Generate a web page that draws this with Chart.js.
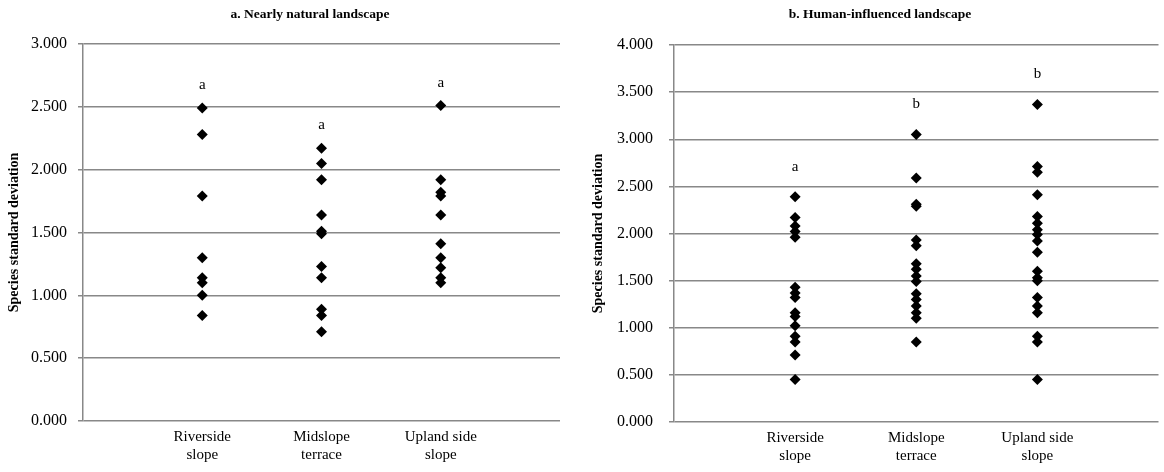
<!DOCTYPE html>
<html>
<head>
<meta charset="utf-8">
<script src="https://cdn.jsdelivr.net/npm/chart.js@4"></script>
<style>
  html, body { margin: 0; padding: 0; background: #fff; }
  #wrap { position: relative; width: 1164px; height: 472px; }
  .panel { position: absolute; top: 0; height: 472px; }
</style>
</head>
<body>
<div id="wrap">
  <div class="panel" style="left:0;width:580px"><canvas id="chartA"></canvas></div>
  <div class="panel" style="left:580px;width:584px"><canvas id="chartB"></canvas></div>
</div>
<script>
// categories shared by both panels
const categories = [['Riverside', 'slope'], ['Midslope', 'terrace'], ['Upland side', 'slope']];
const yTitle = 'Species standard deviation';

// a. Nearly natural landscape
const natRiverside = [2.49, 2.28, 1.79, 1.30, 1.14, 1.10, 1.00, 0.84];
const natMidslope = [2.17, 2.05, 1.92, 1.64, 1.51, 1.49, 1.23, 1.14, 0.89, 0.84, 0.71];
const natUpland = [2.51, 1.92, 1.82, 1.79, 1.64, 1.41, 1.30, 1.22, 1.14, 1.10];
const natLetters = ['a', 'a', 'a'];
const natYMax = 3;

// b. Human-influenced landscape
const humRiverside = [2.39, 2.17, 2.08, 2.02, 1.96, 1.43, 1.37, 1.32, 1.16, 1.12, 1.02, 0.91, 0.85, 0.71, 0.45];
const humMidslope = [3.05, 2.59, 2.31, 2.29, 1.93, 1.87, 1.68, 1.62, 1.55, 1.49, 1.36, 1.30, 1.23, 1.16, 1.10, 0.85];
const humUpland = [3.37, 2.71, 2.65, 2.41, 2.18, 2.11, 2.04, 1.99, 1.92, 1.80, 1.60, 1.53, 1.50, 1.32, 1.23, 1.16, 0.91, 0.85, 0.45];
const humLetters = ['a', 'b', 'b'];
const humYMax = 4;

const yStep = 0.5;
const serif = "'Liberation Serif', 'Times New Roman', serif";
const gridGrey = '#888';

// letters drawn above the top point of each group
const letterPlugin = {
    id: 'groupLetters',
    afterDatasetsDraw(chart, args, opts) {
        const ctx = chart.ctx;
        ctx.save();
        ctx.font = '15px ' + serif;
        ctx.fillStyle = '#000';
        ctx.textAlign = 'center';
        ctx.textBaseline = 'middle';
        chart.data.datasets.forEach((ds, i) => {
            const meta = chart.getDatasetMeta(i);
            let top = Infinity, x = 0;
            meta.data.forEach(p => { if (p.y < top) { top = p.y; x = p.x; } });
            ctx.fillText(opts.letters[i], x, top - opts.offset);
        });
        ctx.restore();
    }
};

// panel title, placed like the original (not centred on canvas)
const titlePlugin = {
    id: 'panelTitle',
    afterDraw(chart, args, opts) {
        const ctx = chart.ctx;
        ctx.save();
        ctx.font = 'bold 13.5px ' + serif;
        ctx.fillStyle = '#000';
        ctx.textAlign = 'center';
        ctx.textBaseline = 'middle';
        ctx.fillText(opts.text, opts.x, opts.y);
        ctx.restore();
    }
};

function makeChart(id, title, groups, letters, yMax, opt) {
    const datasets = groups.map((vals, i) => ({
        data: vals.map(v => ({ x: i + 1, y: v })),
        pointStyle: 'rectRot',
        pointRadius: 5.5,
        pointHoverRadius: 5.5,
        backgroundColor: '#000',
        borderColor: '#000',
        borderWidth: 0,
        showLine: false
    }));

    return new Chart(document.getElementById(id), {
        type: 'scatter',
        data: { datasets: datasets },
        options: {
            responsive: true,
            maintainAspectRatio: false,
            animation: false,
            layout: { padding: { top: opt.padTop, right: opt.padRight, left: 0, bottom: 0 } },
            plugins: {
                legend: { display: false },
                tooltip: { enabled: false },
                title: { display: false },
                panelTitle: { text: title, x: opt.titleX, y: 15 },
                groupLetters: { letters: letters, offset: opt.letterOffset }
            },
            scales: {
                x: {
                    type: 'linear',
                    min: 0,
                    max: 4,
                    afterBuildTicks: s => { s.ticks = [1, 2, 3].map(v => ({ value: v })); },
                    afterFit: s => { s.height = opt.xHeight; },
                    grid: { display: false, drawTicks: false },
                    border: { display: false },
                    ticks: {
                        autoSkip: false,
                        maxRotation: 0,
                        padding: 7,
                        color: '#000',
                        font: { family: serif, size: 15, lineHeight: 1.2 },
                        callback: v => categories[v - 1]
                    }
                },
                y: {
                    min: 0,
                    max: yMax,
                    afterFit: s => { s.width = opt.yWidth; },
                    grid: { color: gridGrey, lineWidth: 1.5, tickLength: 5, tickColor: gridGrey },
                    border: { display: true, color: gridGrey, width: 1.5 },
                    ticks: {
                        stepSize: yStep,
                        padding: opt.tickPad,
                        color: '#000',
                        font: { family: serif, size: 16 },
                        callback: v => v.toFixed(3)
                    },
                    title: {
                        display: true,
                        text: yTitle,
                        color: '#000',
                        font: { family: serif, size: 14, weight: 'bold' },
                        padding: { top: opt.yTitleTop, bottom: 0 }
                    }
                }
            }
        },
        plugins: [letterPlugin, titlePlugin]
    });
}

makeChart('chartA', 'a. Nearly natural landscape',
    [natRiverside, natMidslope, natUpland], natLetters, natYMax,
    { padTop: 44, padRight: 20, titleX: 310, xHeight: 51, yWidth: 83, tickPad: 11, yTitleTop: 6, letterOffset: 23 });

makeChart('chartB', 'b. Human-influenced landscape',
    [humRiverside, humMidslope, humUpland], humLetters, humYMax,
    { padTop: 45, padRight: 3, titleX: 300, xHeight: 50, yWidth: 94, tickPad: 16, yTitleTop: 10, letterOffset: 30 });
</script>
</body>
</html>
